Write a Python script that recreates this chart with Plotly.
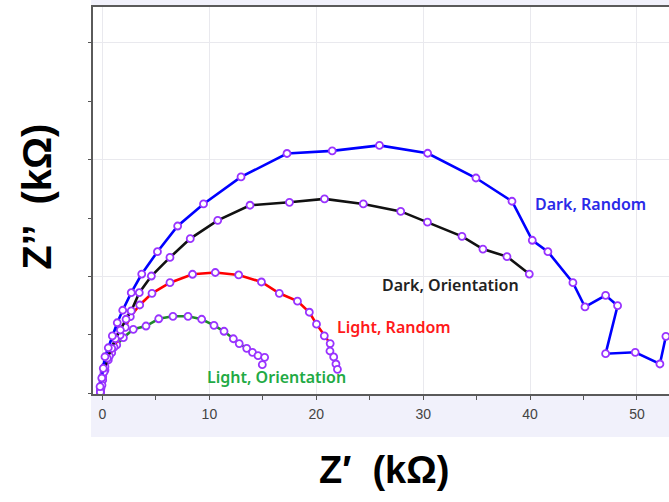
import plotly.graph_objects as go

# Dark, Random (blue)
dr_x = [-0.2, -0.23, -0.07, 0.07, 0.23, 0.54, 0.92, 1.38, 1.89, 2.69, 3.67, 5.14, 7.03, 9.45, 12.96,
        17.26, 21.49, 25.91, 30.42, 34.94, 38.31, 40.21, 41.67, 44.01, 45.14, 47.07, 48.19, 47.07,
        49.84, 52.15, 52.71]
dr_y = [0.1, 0.57, 1.31, 2.14, 3.13, 3.90, 4.91, 6.04, 7.11, 8.61, 10.21, 12.12, 14.32, 16.21, 18.52,
        20.53, 20.75, 21.22, 20.55, 18.43, 16.44, 13.10, 12.12, 9.47, 7.39, 8.39, 7.50, 3.39,
        3.51, 2.51, 4.88]

# Dark, Orientation (black)
do_x = [-0.2, -0.05, 0.14, 0.45, 0.86, 1.20, 1.67, 2.20, 2.69, 3.44, 4.57, 6.31, 8.21, 10.78, 13.80,
        17.49, 20.77, 24.40, 27.90, 30.40, 33.63, 35.59, 37.84, 39.93]
do_y = [0.1, 0.71, 1.82, 3.00, 3.85, 4.67, 5.42, 6.34, 7.05, 8.61, 10.04, 11.63, 13.24, 14.81, 16.10,
        16.35, 16.64, 16.21, 15.57, 14.65, 13.44, 12.35, 11.70, 10.21]

# Light, Random (red)
lr_x = [-0.2, -0.14, 0.02, 0.23, 0.64, 1.08, 1.64, 2.13, 2.60, 3.48, 4.63, 6.31, 8.42, 10.55, 12.74,
        14.87, 16.54, 18.24, 19.35, 20.02, 20.75, 21.30, 21.28, 21.63, 21.84, 21.98]
lr_y = [0.1, 0.45, 1.42, 2.28, 3.19, 3.96, 4.97, 5.65, 6.56, 7.56, 8.56, 9.47, 10.19, 10.34, 10.13,
        9.53, 8.56, 7.89, 6.94, 5.92, 4.92, 4.26, 3.62, 3.11, 2.51, 2.05]

# Light, Orientation (green)
lo_x = [-0.2, -0.19, 0.02, 0.23, 0.54, 0.86, 1.33, 1.95, 2.88, 4.07, 5.26, 6.59, 8.00, 9.28, 10.43,
        11.37, 12.24, 12.79, 13.49, 14.03, 14.55, 15.17, 14.95]
lo_y = [0.1, 0.37, 1.14, 1.99, 2.85, 3.48, 4.14, 4.76, 5.48, 5.76, 6.38, 6.59, 6.59, 6.34, 5.82,
        5.31, 4.67, 4.26, 3.85, 3.51, 3.22, 3.08, 2.45]

x_ticks = [0, 10, 20, 30, 40, 50]

series = [
    (lo_x, lo_y, "#1f8a2a", "Light, Orientation"),
    (lr_x, lr_y, "#ff0000", "Light, Random"),
    (do_x, do_y, "#111111", "Dark, Orientation"),
    (dr_x, dr_y, "#0000ff", "Dark, Random"),
]

fig = go.Figure()
for xs, ys, col, name in series:
    fig.add_trace(go.Scatter(
        x=xs, y=ys, mode="lines+markers", name=name,
        line=dict(color=col, width=2.6),
        marker=dict(symbol="circle", size=7, color="white",
                    line=dict(color="#9933ff", width=1.8)),
        showlegend=False,
    ))

label_font = dict(family="Noto Sans", size=16, weight=600)
labels = [
    ("Dark, Random", 45.7, 16.2, "#2a2ae8"),
    ("Dark, Orientation", 32.6, 9.25, "#222222"),
    ("Light, Random", 27.3, 5.67, "#ff1a1a"),
    ("Light, Orientation", 16.3, 1.43, "#22aa44"),
]
annotations = []
for txt, ax_, ay_, col in labels:
    annotations.append(dict(x=ax_, y=ay_, xref="x", yref="y", text=txt, showarrow=False,
                            font=dict(color=col, **label_font)))

annotations.append(dict(x=0.505, y=-0.196, xref="paper", yref="paper", text="Z′  (kΩ)",
                        showarrow=False,
                        font=dict(family="Liberation Sans", size=38, color="black", weight="bold"),
                        xanchor="center", yanchor="middle"))
annotations.append(dict(x=-0.097, y=0.51, xref="paper", yref="paper", text="Z’’  (kΩ)",
                        showarrow=False,
                        font=dict(family="Liberation Sans", size=40, color="black", weight="bold"),
                        textangle=-90, xanchor="center", yanchor="middle"))

shapes = [
    dict(type="rect", xref="paper", yref="paper", x0=-0.0035, x1=1.0, y0=-0.111, y1=1.018,
         fillcolor="#f1f1fb", line=dict(width=0), layer="below"),
    dict(type="rect", xref="paper", yref="paper", x0=0, x1=1.0, y0=0, y1=1,
         fillcolor="white", line=dict(width=0), layer="below"),
]

fig.update_layout(
    width=669, height=502,
    margin=dict(l=93, r=0, t=7, b=108),
    paper_bgcolor="white", plot_bgcolor="white",
    annotations=annotations, shapes=shapes,
    xaxis=dict(range=[-0.89, 53.0], tickvals=x_ticks, ticktext=[str(v) for v in x_ticks],
               showgrid=True, gridcolor="#e9e9ee", gridwidth=1, zeroline=False,
               showline=True, linecolor="#5a5a5a", linewidth=2, mirror=True,
               ticks="", ticklabelstandoff=6,
               tickfont=dict(family="Liberation Sans", size=14, color="#444444"),
               minor=dict(dtick=5, tick0=0, ticks="outside", ticklen=4, tickcolor="#555555",
                          showgrid=False)),
    yaxis=dict(range=[-0.06, 33.07], dtick=10, tick0=0, showticklabels=False,
               showgrid=True, gridcolor="#e9e9ee", gridwidth=1, zeroline=False,
               showline=True, linecolor="#5a5a5a", linewidth=2,
               ticks="outside", ticklen=3, tickcolor="#555555",
               minor=dict(dtick=5, tick0=0, ticks="outside", ticklen=3, tickcolor="#555555",
                          showgrid=False)),
)

fig.write_html("out.html")
